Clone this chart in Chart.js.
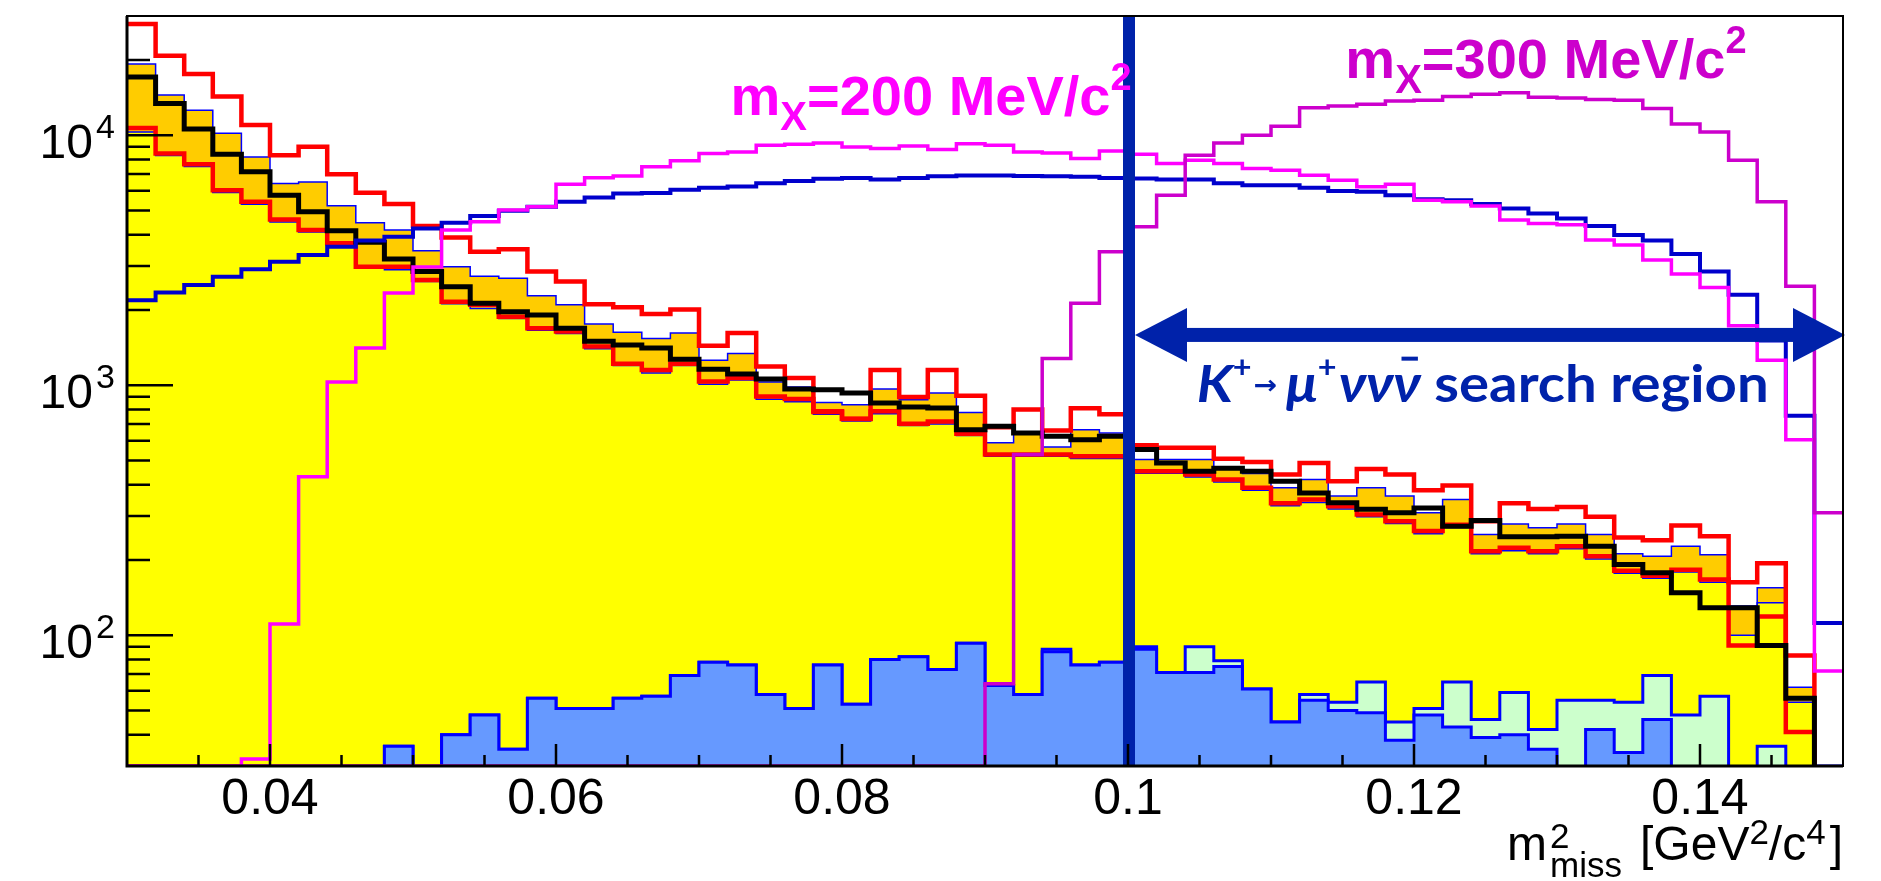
<!DOCTYPE html>
<html>
<head>
<meta charset="utf-8">
<script src="https://cdn.jsdelivr.net/npm/chart.js@4.4.1/dist/chart.umd.min.js"></script>
<style>
  html, body { margin: 0; padding: 0; background: #fff; }
  #wrap { width: 1881px; height: 881px; position: relative; }
</style>
</head>
<body>
<div id="wrap"><canvas id="chart"></canvas></div>
<script>
// m2miss binning: 60 bins of 0.002 GeV2/c4 from 0.03 to 0.15
const binLow = 0.03;
const binWidth = 0.002;
const nBins = 60;

const xTicks = [0.04, 0.06, 0.08, 0.1, 0.12, 0.14];
const xTickLabels = ['0.04', '0.06', '0.08', '0.1', '0.12', '0.14'];
const yTicks = [100, 1000, 10000];
const yTickExp = ['2', '3', '4'];

// stacked MC (orange top) and main background (yellow)
const mcTotal = [19300, 14500, 12600, 10200, 8190, 6410, 6510, 5220, 4470, 4180,
  3450, 2980, 2730, 2680, 2280, 2100, 1760, 1630, 1540, 1620,
  1260, 1340, 1030, 984, 854, 836, 966, 875, 931, 779,
  589, 651, 566, 664, 644, 505, 505, 505, 466, 444,
  389, 420, 361, 389, 361, 309, 349, 253, 279, 269,
  279, 253, 212, 207, 227, 210, 131, 155, 62, 10];
const mcMain = [10300, 8300, 7500, 5900, 5300, 4500, 4100, 3650, 2950, 2900,
  2600, 2120, 2030, 1850, 1660, 1610, 1400, 1200, 1120, 1200,
  1010, 1050, 880, 860, 765, 720, 770, 690, 700, 630,
  520, 520, 520, 510, 510, 445, 445, 430, 410, 380,
  330, 340, 320, 298, 280, 255, 270, 212, 218, 212,
  222, 202, 177, 169, 179, 163, 100, 135, 54, 10];

// systematic band (red)
const bandUp = [27900, 20800, 17600, 14300, 11000, 8320, 8990, 6980, 5890, 5310,
  4340, 3900, 3420, 3500, 2850, 2600, 2110, 2050, 1930, 2010,
  1440, 1620, 1190, 1070, 787, 735, 1150, 897, 1150, 908,
  680, 800, 660, 810, 765, 575, 562, 562, 508, 493,
  440, 489, 413, 462, 440, 380, 397, 286, 337, 320,
  326, 298, 246, 240, 275, 249, 163, 194, 83, 10];
const bandLow = [10700, 8450, 7660, 6030, 5420, 4600, 4180, 3700, 2980, 2980,
  2640, 2160, 2100, 1880, 1690, 1640, 1430, 1220, 1150, 1220,
  1035, 1070, 902, 881, 781, 733, 787, 702, 717, 640,
  529, 529, 529, 520, 520, 453, 453, 440, 420, 389,
  337, 349, 328, 304, 286, 261, 277, 217, 224, 217,
  227, 207, 181, 173, 183, 167, 91, 119, 41, 10];

// data
const dataCounts = [17100, 13400, 10600, 8400, 7140, 5760, 4940, 4150, 3730, 3200,
  2850, 2480, 2130, 1970, 1910, 1690, 1500, 1450, 1410, 1270,
  1160, 1110, 1060, 966, 960, 931, 849, 818, 811, 664,
  685, 644, 625, 606, 625, 553, 489, 453, 466, 453,
  413, 371, 339, 319, 309, 323, 273, 288, 248, 248,
  249, 227, 192, 178, 148, 129, 129, 91, 56, 10];

// small backgrounds at the bottom
const bkgBlue = [10, 10, 10, 10, 10, 10, 10, 10, 10, 36,
  10, 40, 48, 35, 56, 51, 51, 56, 57, 69,
  78, 76, 58, 51, 76, 53, 80, 82, 73, 93,
  63, 58, 86, 76, 78, 88, 71, 71, 75, 61,
  45, 55, 50, 49, 38, 48, 43, 39, 40, 35,
  20, 42, 34, 46, 20, 20, 10, 20, 10, 10];
const bkgGreen = [10, 10, 10, 10, 10, 10, 10, 10, 10, 36,
  10, 40, 48, 35, 56, 51, 51, 56, 57, 69,
  78, 76, 58, 51, 76, 53, 80, 82, 73, 93,
  63, 58, 88, 76, 78, 90, 71, 90, 79, 61,
  45, 58, 54, 65, 45, 51, 65, 46, 59, 42,
  55, 55, 54, 69, 48, 57, 10, 36, 10, 30];

// signal shapes
const sigMuNuNuNu = [2190, 2350, 2520, 2720, 2910, 3120, 3320, 3580, 3790, 3930,
  4240, 4470, 4750, 4990, 5180, 5420, 5640, 5850, 5880, 6060,
  6170, 6240, 6430, 6560, 6700, 6740, 6650, 6740, 6860, 6900,
  6900, 6880, 6860, 6820, 6750, 6710, 6650, 6650, 6430, 6310,
  6310, 6170, 5990, 5940, 5760, 5550, 5500, 5310, 5100, 4870,
  4650, 4340, 3990, 3790, 3350, 2850, 2300, 1510, 755, 112];
const sigMx200 = [30, 30, 30, 30, 32, 111, 431, 1030, 1410, 2340,
  2970, 4180, 4510, 5020, 5180, 6370, 6760, 6870, 7480, 7910,
  8450, 8580, 9120, 9200, 9320, 8980, 8850, 9070, 8770, 9260,
  9120, 8580, 8500, 8070, 8660, 8400, 7710, 7940, 7710, 7360,
  7250, 6920, 6610, 6220, 6370, 5500, 5420, 5210, 4580, 4440,
  4390, 3810, 3640, 3170, 2790, 2460, 1730, 1260, 605, 72];
const sigMx300 = [30, 30, 30, 30, 30, 30, 30, 30, 30, 30,
  30, 30, 30, 30, 30, 30, 30, 30, 30, 30,
  30, 30, 30, 30, 30, 30, 30, 30, 30, 30,
  64, 529, 1280, 2130, 3420, 4310, 5760, 8320, 9320, 10000,
  10860, 12900, 13100, 13300, 13700, 13800, 14300, 14600, 14800, 14200,
  14100, 13900, 13800, 12800, 11100, 10300, 7940, 5420, 2490, 309];

// annotation anchors (data coordinates)
const searchFrom = 0.1;
const searchTo = 0.15;
const arrowLevel = 1590;

const annoBlue = '#0022aa';
const sansFont = "'Liberation Sans', Arial, sans-serif";
const textFont = "Lato, 'Noto Sans', sans-serif";

function steps(vals) {
  const pts = vals.map((v, i) => ({ x: binLow + i * binWidth, y: v }));
  pts.push({ x: binLow + nBins * binWidth, y: vals[vals.length - 1] });
  return pts;
}

function hist(label, vals, color, width, order, extra) {
  return Object.assign({
    label: label,
    data: steps(vals),
    borderColor: color,
    borderWidth: width,
    stepped: 'before',
    pointRadius: 0,
    fill: false,
    order: order
  }, extra || {});
}

// draws a run of text pieces, each with its own font and vertical shift
function rich(ctx, parts, x, y) {
  let cx = x;
  parts.forEach(p => {
    ctx.font = p.font;
    ctx.fillText(p.t, cx, y + (p.dy || 0));
    p.x = cx;
    p.w = ctx.measureText(p.t).width;
    cx += p.w + (p.gap || 0);
  });
  return cx - x;
}

function richWidth(ctx, parts) {
  let w = 0;
  parts.forEach(p => { ctx.font = p.font; w += ctx.measureText(p.t).width + (p.gap || 0); });
  return w;
}

const decor = {
  id: 'decor',
  afterDatasetsDraw(chart) {
    const ctx = chart.ctx;
    const a = chart.chartArea;
    const xs = chart.scales.x;
    const ys = chart.scales.y;
    ctx.save();

    // search region boundary and arrow
    const x0 = xs.getPixelForValue(searchFrom);
    const x1 = xs.getPixelForValue(searchTo);
    ctx.fillStyle = annoBlue;
    ctx.fillRect(x0 - 5, a.top, 12, a.bottom - a.top);
    const ya = ys.getPixelForValue(arrowLevel);
    const head = 52, half = 27;
    ctx.fillRect(x0 + 7 + head - 2, ya - 7, (x1 + 2) - (x0 + 7) - 2 * head + 4, 14);
    ctx.beginPath();
    ctx.moveTo(x0 + 7, ya);
    ctx.lineTo(x0 + 7 + head, ya - half);
    ctx.lineTo(x0 + 7 + head, ya + half);
    ctx.closePath();
    ctx.fill();
    ctx.beginPath();
    ctx.moveTo(x1 + 2, ya);
    ctx.lineTo(x1 + 2 - head, ya - half);
    ctx.lineTo(x1 + 2 - head, ya + half);
    ctx.closePath();
    ctx.fill();

    // K+ -> mu+ nu nu nubar search region
    ctx.textBaseline = 'alphabetic';
    const sParts = [
      { t: 'K', font: 'italic bold 52px ' + textFont },
      { t: '+', font: 'bold 30px ' + textFont, dy: -24, gap: 2 },
      { t: '\u2192', font: 'bold 26px "DejaVu Sans", sans-serif', dy: -8, gap: 8 },
      { t: '\u03bc', font: 'italic bold 52px ' + textFont },
      { t: '+', font: 'bold 30px ' + textFont, dy: -24, gap: 2 },
      { t: '\u03bd\u03bd', font: 'italic bold 52px ' + textFont },
      { t: '\u03bd', font: 'italic bold 52px ' + textFont },
      { t: ' search region', font: 'bold 52px ' + textFont }
    ];
    const sx0 = xs.getPixelForValue(0.1048);
    const sx1 = xs.getPixelForValue(0.1448);
    const sy = ys.getPixelForValue(860);
    const natural = richWidth(ctx, sParts);
    ctx.save();
    ctx.translate(sx0, sy);
    ctx.scale((sx1 - sx0) / natural, 1);
    rich(ctx, sParts, 0, 0);
    const nub = sParts[6];
    ctx.fillRect(nub.x + nub.w * 0.3, -45, nub.w * 0.6, 4);
    ctx.restore();

    // m_X labels
    ctx.fillStyle = '#ff00ff';
    rich(ctx, [
      { t: 'm', font: 'bold 56px ' + sansFont },
      { t: 'X', font: 'bold 40px ' + sansFont, dy: 15 },
      { t: '=200 MeV/c', font: 'bold 56px ' + sansFont },
      { t: '2', font: 'bold 38px ' + sansFont, dy: -25 }
    ], xs.getPixelForValue(0.0722), ys.getPixelForValue(12000));
    ctx.fillStyle = '#cc00cc';
    rich(ctx, [
      { t: 'm', font: 'bold 56px ' + sansFont },
      { t: 'X', font: 'bold 40px ' + sansFont, dy: 15 },
      { t: '=300 MeV/c', font: 'bold 56px ' + sansFont },
      { t: '2', font: 'bold 38px ' + sansFont, dy: -25 }
    ], xs.getPixelForValue(0.1152), ys.getPixelForValue(16900));

    // frame
    ctx.strokeStyle = '#000';
    ctx.lineWidth = 2;
    ctx.strokeRect(a.left, a.top, a.right - a.left, a.bottom - a.top);
    ctx.lineWidth = 3;
    ctx.beginPath();
    ctx.moveTo(a.left, a.top);
    ctx.lineTo(a.left, a.bottom);
    ctx.lineTo(a.right, a.bottom);
    ctx.stroke();

    // y ticks (inside, log minor ticks)
    ctx.lineWidth = 2.5;
    ctx.beginPath();
    for (let d = 1; d <= 4; d++) {
      for (let m = 1; m <= 9; m++) {
        const v = m * Math.pow(10, d);
        if (v <= ys.min || v >= ys.max) continue;
        const py = ys.getPixelForValue(v);
        ctx.moveTo(a.left, py);
        ctx.lineTo(a.left + (m === 1 ? 46 : 23), py);
      }
    }
    // x ticks (inside)
    for (let v = binLow + 0.005; v < 0.15 - 1e-9; v += 0.005) {
      const major = xTicks.some(t => Math.abs(t - v) < 1e-6);
      const px = xs.getPixelForValue(v);
      ctx.moveTo(px, a.bottom);
      ctx.lineTo(px, a.bottom - (major ? 22 : 11));
    }
    ctx.stroke();

    // tick labels
    ctx.fillStyle = '#000';
    ctx.textAlign = 'center';
    ctx.font = '50px ' + sansFont;
    xTicks.forEach((t, i) => {
      ctx.fillText(xTickLabels[i], xs.getPixelForValue(t), a.bottom + 48);
    });
    yTicks.forEach((t, i) => {
      const py = ys.getPixelForValue(t);
      ctx.textAlign = 'right';
      ctx.font = '48px ' + sansFont;
      ctx.fillText('10', a.left - 34, py + 23);
      ctx.textAlign = 'left';
      ctx.font = '34px ' + sansFont;
      ctx.fillText(yTickExp[i], a.left - 31, py + 3);
    });

    // x title: m^2_miss [GeV^2/c^4], right aligned to the frame
    ctx.textAlign = 'left';
    const big = '48px ' + sansFont, small = '35px ' + sansFont;
    ctx.font = big;
    const wm = ctx.measureText('m').width;
    ctx.font = small;
    const wmiss = ctx.measureText('miss').width;
    const unitParts = [
      { t: '[GeV', font: big },
      { t: '2', font: small, dy: -16 },
      { t: '/c', font: big },
      { t: '4', font: small, dy: -16, gap: 4 },
      { t: ']', font: big }
    ];
    const wu = richWidth(ctx, unitParts);
    const tb = a.bottom + 94;
    const gap = 18;
    let tx = a.right - (wm + 3 + wmiss + gap + wu);
    ctx.font = big;
    ctx.fillText('m', tx, tb);
    ctx.font = small;
    ctx.fillText('2', tx + wm + 3, tb - 12);
    ctx.fillText('miss', tx + wm + 3, tb + 17);
    rich(ctx, unitParts, tx + wm + 3 + wmiss + gap, tb);

    ctx.restore();
  }
};

new Chart(document.getElementById('chart'), {
  type: 'line',
  data: {
    datasets: [
      hist('MC total', mcTotal, '#0000ff', 1.5, 10, { fill: 'start', backgroundColor: '#ffcc00' }),
      hist('K\u2192\u03bc\u03bd', mcMain, '#0000ff', 1.5, 9, { fill: 'start', backgroundColor: '#ffff00' }),
      hist('bkg 2', bkgGreen, '#0000ff', 3, 8, { fill: 'start', backgroundColor: '#ccffcc' }),
      hist('bkg 1', bkgBlue, '#0000ff', 3, 7, { fill: 'start', backgroundColor: '#6699ff' }),
      hist('syst up', bandUp, '#ff0000', 4.5, 6),
      hist('syst down', bandLow, '#ff0000', 4.5, 6),
      hist('data', dataCounts, '#000000', 5, 5),
      hist('K\u2192\u03bc\u03bd\u03bd\u03bd\u0304', sigMuNuNuNu, '#0000cc', 4, 4),
      hist('mX=200', sigMx200, '#ff00ff', 3.5, 3),
      hist('mX=300', sigMx300, '#cc00cc', 3.5, 2)
    ]
  },
  options: {
    responsive: true,
    maintainAspectRatio: false,
    animation: false,
    devicePixelRatio: 1,
    events: [],
    layout: { padding: { left: 127, right: 38, top: 16, bottom: 115 } },
    plugins: { legend: { display: false }, tooltip: { enabled: false } },
    scales: {
      x: { type: 'linear', min: 0.03, max: 0.15, display: false },
      y: { type: 'logarithmic', min: 30, max: 30000, display: false }
    }
  },
  plugins: [decor]
});
</script>
</body>
</html>
